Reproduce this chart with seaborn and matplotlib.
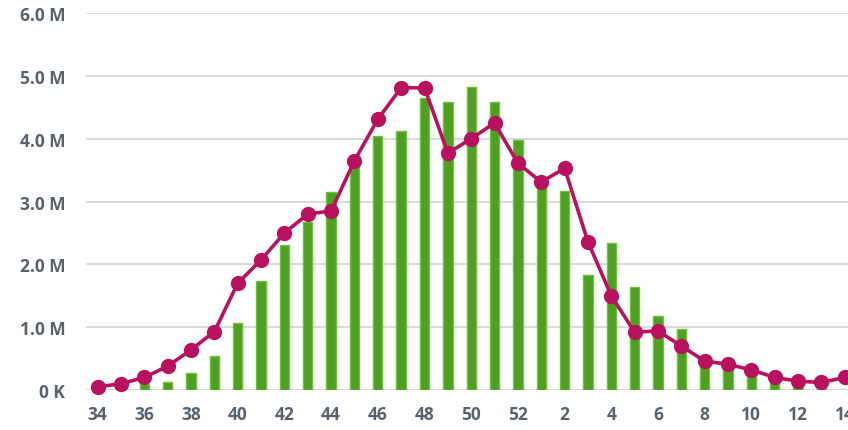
import numpy as np
import pandas as pd
import seaborn as sns
import matplotlib.pyplot as plt
from matplotlib.ticker import FuncFormatter

# Colours
GREEN   = "#4f9f24"
MAGENTA = "#b8115d"
GRID    = "#d9d9d9"
LABEL   = "#59626c"

# Data (values in millions)
weeks = [str(w) for w in range(34, 53)] + [str(w) for w in range(1, 15)]
bars = [0.0, 0.0, 0.1, 0.13, 0.27, 0.54, 1.07, 1.73, 2.3, 2.68, 3.15, 3.6, 4.05,
        4.13, 4.65, 4.58, 4.82, 4.59, 3.98, 3.28, 3.17, 1.83, 2.34, 1.64, 1.18,
        0.97, 0.45, 0.38, 0.3, 0.15, 0.1, 0.05, 0.0]
line = [0.05, 0.1, 0.2, 0.38, 0.64, 0.93, 1.7, 2.07, 2.5, 2.8, 2.85, 3.65, 4.31,
        4.81, 4.81, 3.77, 4.0, 4.25, 3.61, 3.31, 3.53, 2.36, 1.5, 0.92, 0.94,
        0.7, 0.46, 0.41, 0.32, 0.2, 0.14, 0.12, 0.2]

df = pd.DataFrame({"week": weeks, "bars": bars, "line": line, "pos": np.arange(len(weeks))})

sns.set_style("white")
plt.rcParams['font.family'] = ['Open Sans', 'DejaVu Sans']

fig = plt.figure(figsize=(8.48, 4.31), dpi=100)
ax = fig.add_axes([0.1014, 0.0928, 0.8986, 0.8747])

sns.barplot(data=df, x="week", y="bars", order=weeks, color=GREEN, width=0.4,
            saturation=1, ax=ax, zorder=2)
# lighter rim on the bars, like the gradient fill in the original
for p in ax.patches:
    p.set_edgecolor("#6cc23a")
    p.set_linewidth(1.0)
sns.lineplot(data=df, x="pos", y="line", color=MAGENTA, linewidth=2.6, marker="o",
             markersize=11, markeredgewidth=0, ax=ax, zorder=3, clip_on=False)

ax.set_ylim(0, 6)
ax.set_xlim(-0.5, 32.14)
ax.set_yticks(np.arange(0, 7, 1))
ax.yaxis.set_major_formatter(FuncFormatter(lambda v, p: "0 K" if v == 0 else f"{v:.1f} M"))
even = list(range(0, len(weeks), 2))
ax.set_xticks(even)
ax.set_xticklabels([weeks[i] for i in even])

ax.grid(axis="y", color=GRID, linewidth=1.4, zorder=0)
ax.set_axisbelow(True)
for s in ax.spines.values():
    s.set_visible(False)
ax.tick_params(axis="both", length=0, labelsize=12.5, labelcolor=LABEL)
ax.tick_params(axis="y", pad=15)
ax.tick_params(axis="x", pad=11)
for t in ax.get_xticklabels() + ax.get_yticklabels():
    t.set_fontweight("bold")
ax.set_xlabel("")
ax.set_ylabel("")

fig.savefig("out.png", dpi=100)
